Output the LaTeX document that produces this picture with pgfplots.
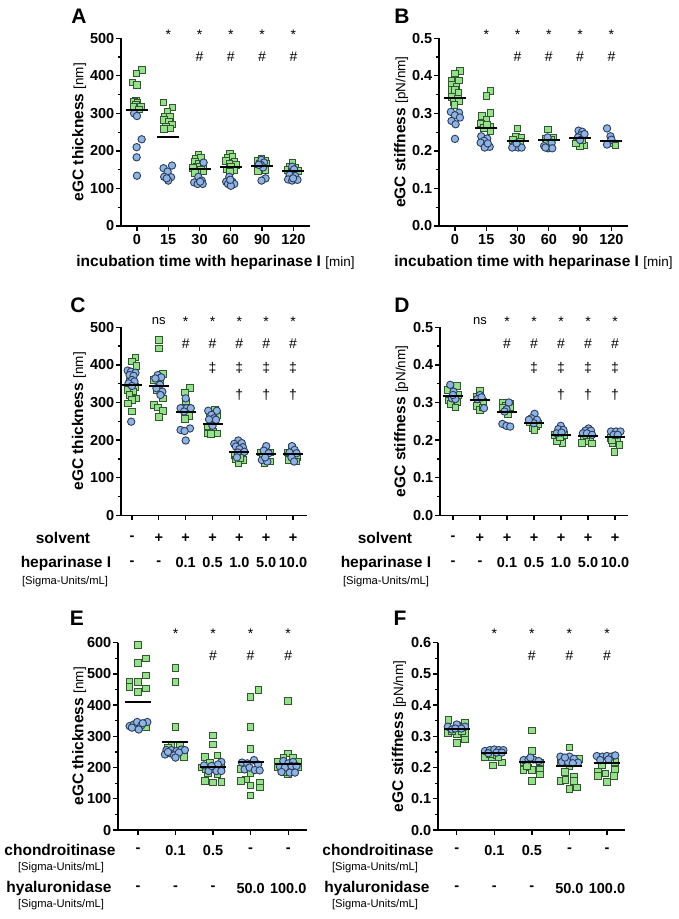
\documentclass[border=0pt]{standalone}
\usepackage{fontspec}
\setmainfont{Liberation Sans}
\usepackage{pgfplots}
\pgfplotsset{compat=1.18}
\definecolor{gfill}{RGB}{150,224,140}
\definecolor{gedge}{RGB}{50,85,50}
\definecolor{bfill}{RGB}{142,180,228}
\definecolor{bedge}{RGB}{45,60,90}
\newcommand{\tf}{\fontsize{14.5}{16}\selectfont\bfseries}
\newcommand{\lbf}{\fontsize{15.5}{17}\selectfont\bfseries}
\newcommand{\af}{\fontsize{14}{16}\selectfont\mdseries}
\newcommand{\uf}{\fontsize{13.5}{15}\selectfont\mdseries}
\newcommand{\sgf}{\fontsize{11.2}{13}\selectfont\mdseries}
\newcommand{\lf}{\fontsize{21}{24}\selectfont\bfseries}
\pgfplotsset{
 panel/.style={scale only axis, anchor=south west,
  axis x line*=bottom, axis y line*=left,
  axis line style={line width=1.6pt,-},
  every tick/.style={black,line width=1.3pt},
  major tick length=5pt, minor tick length=3pt, tick align=outside,
  clip=false, tick label style={font=\tf},
  yticklabel style={inner sep=1.5pt},
  minor y tick num=1,
  ylabel style={anchor=center, rotate=0}},
 gsq/.style={only marks, mark=square*, mark size=3.3pt, mark options={fill=gfill, draw=gedge, line width=0.9pt}},
 bci/.style={only marks, mark=*, mark size=3.7pt, mark options={fill=bfill, draw=bedge, line width=0.9pt}},
 meanl/.style={only marks, mark=-, mark size=#1, mark options={line width=2pt, draw=black}},
}
\tikzset{ann/.style={font=\af, inner sep=0pt, anchor=center},
         sta/.style={font=\af, inner sep=0pt, anchor=base},
         rowv/.style={font=\tf, inner sep=0pt, anchor=center}}
\begin{document}
\begin{tikzpicture}
\path[use as bounding box] (0pt,0pt) rectangle (679pt,-919pt);
% ================= A =================
\begin{axis}[panel, at={(121pt,-226pt)}, width=189pt, height=187.7pt,
  xmin=-0.51, xmax=5.53, ymin=0, ymax=500,
  xtick={0,...,5}, xticklabels={0,15,30,60,90,120},
  ytick={0,100,...,500}, yticklabels={0,100,200,300,400,500},
  ylabel={\lbf eGC thickness \uf[nm]}, ylabel style={at={(axis description cs:-0.222,0.5)}, rotate=0},
  xlabel={\lbf incubation time with heparinase I \uf[min]},
  xlabel style={at={(axis description cs:0.5,0)}, anchor=center, yshift=-36pt}]
\addplot[gsq] coordinates {(0.15,415.6)(-0.01,406.7)(-0.14,381.9)(0.0,375.7)(-0.03,334)(-0.09,331)(0.02,328.6)(-0.03,322)(0.13,318)(-0.11,318)(0.07,311)
(0.85,329)(1.14,316)(0.98,305)(0.9,290)(1.06,290)(0.87,282)(1.03,278)(1.11,271)(0.93,265)(1.06,260)(0.87,258)
(1.96,189)(1.88,180)(2.04,183)(1.85,171)(1.99,167)(2.1,163)(1.91,158)(1.78,154)(2.04,149)(2.13,145)(1.85,142)
(2.97,192)(2.91,183)(3.05,185)(2.85,174)(3.11,171)(2.95,167)(3.16,163)(3,158)(2.87,151)(3.11,149)(2.98,145)
(3.98,180)(3.87,174)(4.09,174)(3.93,167)(4.14,167)(3.85,158)(4.03,158)(3.96,149)(4.11,149)(3.87,147)
(4.97,169)(4.88,158)(5.04,156)(4.81,149)(5.15,147)(4.94,145)};
\addplot[bci] coordinates {(-0.09,300)(0,293)(0.15,231)(-0.01,210)(-0.01,183)(0,134)
(0.85,154)(1.12,161)(0.98,145)(0.87,131)(1.09,130)(1,121)(0.95,127)
(2.13,169)(1.96,131)(2.07,121)(1.83,116)(1.94,112)(2.1,112)(2.02,118)
(2.95,131)(2.85,118)(3.05,118)(2.91,112)(3.11,112)(3,107)(2.98,123)
(3.98,176)(4.06,169)(3.96,163)(4.03,156)(4.11,127)(3.98,121)(3.89,163)
(4.96,158)(5.02,151)(4.88,136)(5.06,133)(4.83,124)(4.96,121)(5.13,123)(4.99,127)};
\addplot[meanl=11pt] coordinates {(0,308)(1,237)(2,152)(3,156)(4,161)(5,147)};
\pgfplotsinvokeforeach{1,...,5}{\node[sta] at (axis cs:#1,498) {*};}
\pgfplotsinvokeforeach{2,...,5}{\node[ann] at (axis cs:#1,451) {\#};}
\end{axis}
% ================= B =================
\begin{axis}[panel, at={(439pt,-226pt)}, width=189pt, height=187.7pt,
  xmin=-0.51, xmax=5.53, ymin=0, ymax=0.5,
  xtick={0,...,5}, xticklabels={0,15,30,60,90,120},
  ytick={0,0.1,...,0.5}, yticklabels={0.0,0.1,0.2,0.3,0.4,0.5},
  ylabel={\lbf eGC stiffness \uf[pN/nm]}, ylabel style={at={(axis description cs:-0.20,0.5)}},
  xlabel={\lbf incubation time with heparinase I \uf[min]},
  xlabel style={at={(axis description cs:0.5,0)}, anchor=center, yshift=-36pt}]
\addplot[gsq] coordinates {(0.16,0.413)(0,0.406)(-0.11,0.388)(0.13,0.388)(-0.09,0.375)(0.05,0.371)(-0.11,0.362)(0,0.363)(0.11,0.355)(-0.09,0.344)(0.09,0.34)(-0.05,0.331)(0.13,0.333)(-0.02,0.322)
(1.13,0.359)(1,0.346)(1.14,0.301)(0.86,0.293)(1,0.284)(0.84,0.273)(1.11,0.264)(0.93,0.262)(1.14,0.253)(1.03,0.269)
(2,0.26)(1.94,0.239)(2.13,0.236)(1.86,0.23)(2.07,0.224)
(2.98,0.257)(3.14,0.236)(2.89,0.233)(3.06,0.229)(2.93,0.22)
(3.89,0.224)(4.14,0.215)(4,0.213)(3.86,0.22)(4.07,0.229)
(5.13,0.215)(4.94,0.22)};
\addplot[bci] coordinates {(-0.13,0.304)(0.13,0.302)(0,0.295)(0.16,0.289)(-0.11,0.28)(0.02,0.271)(0,0.232)
(0.84,0.239)(1.03,0.233)(0.93,0.227)(0.82,0.222)(1,0.215)(1.11,0.211)(0.95,0.209)(1.05,0.22)
(1.89,0.215)(2.02,0.209)(1.83,0.209)(2.13,0.209)(1.97,0.22)
(2.96,0.236)(3.09,0.222)(2.85,0.213)(2.98,0.207)(3.11,0.207)(2.89,0.209)
(3.95,0.254)(4.07,0.251)(4.03,0.242)(3.93,0.236)(4.14,0.245)(4,0.229)
(4.86,0.26)(4.97,0.239)(5,0.23)(4.86,0.217)};
\addplot[meanl=11pt] coordinates {(0,0.34)(1,0.262)(2,0.227)(3,0.229)(4,0.235)(5,0.227)};
\pgfplotsinvokeforeach{1,...,5}{\node[sta] at (axis cs:#1,0.498) {*};}
\pgfplotsinvokeforeach{2,...,5}{\node[ann] at (axis cs:#1,0.451) {\#};}
\end{axis}
% ================= C =================
\begin{axis}[panel, at={(121pt,-515.3pt)}, width=186pt, height=188pt,
  xmin=-0.41, xmax=6.52, ymin=0, ymax=500,
  xtick={0,...,6}, xticklabels={},
  ytick={0,100,...,500}, yticklabels={0,100,200,300,400,500},
  ylabel={\lbf eGC thickness \uf[nm]}, ylabel style={at={(axis description cs:-0.226,0.5)}}]
\addplot[gsq] coordinates {(0.13,420)(0,409)(0.16,397)(0.04,369)(-0.09,356)(0.13,342)(-0.16,333)(0.06,329)(-0.09,320)(0.16,311)(0,307)(-0.16,298)(0,276)
(1,466)(1,444)(1.16,376)(0.81,360)(1.06,356)(0.91,333)(1.16,311)(0.81,293)(0.96,287)(1.16,278)(1,262)
(2.15,338)(1.97,327)(2,303)(2.13,264)(1.97,257)
(3.09,282)(2.91,271)(3.19,267)(2.84,236)(3.04,223)(2.84,218)(3.16,218)(2.94,216)
(3.81,161)(4.09,156)(3.87,149)(4.13,147)(3.96,140)(4.04,152)
(4.81,167)(5.16,167)(4.87,156)(5.13,143)(4.94,140)
(5.96,181)(5.81,167)(6.16,156)(5.84,147)(6.13,143)};
\addplot[bci] coordinates {(-0.16,385)(-0.04,382)(0.13,379)(-0.09,373)(0.06,371)(0,360)(0.09,356)(-0.13,351)(0,344)(-0.03,249)
(0.96,373)(1.09,367)(0.87,364)(1.04,347)(0.91,338)(1.13,329)(1.06,320)
(2,311)(1.81,285)(2.04,285)(2.19,285)(1.94,276)(2.16,231)(1.81,227)(1.96,224)(2,199)
(2.84,278)(3.16,278)(2.96,267)(3.06,258)(2.87,255)(3.13,254)(3,238)
(3.96,199)(3.81,190)(4.09,192)(3.87,183)(4.13,181)(4,176)(3.94,167)(4.19,169)(3.91,154)
(5,184)(4.91,172)(5.09,165)(4.84,147)(5.04,143)(4.96,154)
(5.96,184)(6.06,174)(5.87,167)(6.13,165)(5.94,154)(6.04,143)};
\addplot[meanl=10pt] coordinates {(0,346)(1,344)(2,276)(3,243)(4,168)(5,162)(6,162)};
\node[sta, font=\fontsize{13}{15}\selectfont] at (axis cs:1,508) {ns};
\pgfplotsinvokeforeach{2,...,6}{\node[sta] at (axis cs:#1,502.7) {*};}
\pgfplotsinvokeforeach{2,...,6}{\node[ann] at (axis cs:#1,457) {\#};}
\pgfplotsinvokeforeach{3,...,6}{\node[ann] at (axis cs:#1,391) {‡};}
\pgfplotsinvokeforeach{4,...,6}{\node[ann] at (axis cs:#1,320) {†};}
\node[rowv] at (axis cs:0,0) [yshift=-22.7pt] {-};
\pgfplotsinvokeforeach{1,...,6}{\node[rowv] at (axis cs:#1,0) [yshift=-22.7pt] {+};}
\node[rowv] at (axis cs:0,0) [yshift=-47.7pt] {-};
\node[rowv] at (axis cs:1,0) [yshift=-47.7pt] {-};
\node[rowv] at (axis cs:2,0) [yshift=-47.7pt] {0.1};
\node[rowv] at (axis cs:3,0) [yshift=-47.7pt] {0.5};
\node[rowv] at (axis cs:4,0) [yshift=-47.7pt] {1.0};
\node[rowv] at (axis cs:5,0) [yshift=-47.7pt] {5.0};
\node[rowv] at (axis cs:6,0) [yshift=-47.7pt] {10.0};
\end{axis}
% ================= D =================
\begin{axis}[panel, at={(440pt,-515.3pt)}, width=188pt, height=188pt,
  xmin=-0.48, xmax=6.48, ymin=0, ymax=0.5,
  xtick={0,...,6}, xticklabels={},
  ytick={0,0.1,...,0.5}, yticklabels={0.0,0.1,0.2,0.3,0.4,0.5},
  ylabel={\lbf eGC stiffness \uf[pN/nm]}, ylabel style={at={(axis description cs:-0.207,0.5)}}]
\addplot[gsq] coordinates {(0.15,0.344)(-0.2,0.333)(0.2,0.32)(-0.16,0.305)(0.17,0.302)(-0.1,0.296)(0.09,0.287)
(1,0.332)(0.88,0.314)(1.12,0.302)(0.88,0.291)(1,0.28)(1.1,0.287)
(1.85,0.3)(2.1,0.298)(1.95,0.291)(2.12,0.287)(1.91,0.28)(2.04,0.27)(1.83,0.287)
(2.84,0.249)(3.09,0.238)(2.94,0.231)(3.15,0.243)(3.02,0.227)
(3.78,0.214)(4.11,0.214)(3.9,0.202)(4.06,0.193)(3.84,0.196)(3.96,0.207)
(4.84,0.207)(5.09,0.205)(4.94,0.196)(4.78,0.193)(5.15,0.191)
(5.83,0.205)(6.07,0.202)(5.91,0.193)(6.16,0.187)(5.98,0.169)(5.88,0.2)};
\addplot[bci] coordinates {(-0.1,0.347)(0.02,0.329)(-0.04,0.311)(0.09,0.309)(0,0.32)
(1,0.32)(0.9,0.309)(1.06,0.314)(1.15,0.285)
(2.07,0.3)(1.98,0.282)(1.91,0.276)(1.83,0.243)(1.98,0.238)(2.12,0.236)
(3.02,0.27)(2.9,0.258)(3.11,0.254)(2.99,0.245)(2.81,0.254)
(3.99,0.238)(3.9,0.229)(4.09,0.227)(3.84,0.218)(4.02,0.22)
(5.02,0.231)(4.9,0.225)(5.11,0.225)(4.81,0.218)(4.96,0.218)(5.15,0.214)
(5.85,0.223)(6.04,0.223)(6.2,0.223)(5.95,0.214)(6.1,0.214)};
\addplot[meanl=10pt] coordinates {(0,0.318)(1,0.307)(2,0.275)(3,0.245)(4,0.214)(5,0.211)(6,0.207)};
\node[sta, font=\fontsize{13}{15}\selectfont] at (axis cs:1,0.508) {ns};
\pgfplotsinvokeforeach{2,...,6}{\node[sta] at (axis cs:#1,0.5027) {*};}
\pgfplotsinvokeforeach{2,...,6}{\node[ann] at (axis cs:#1,0.457) {\#};}
\pgfplotsinvokeforeach{3,...,6}{\node[ann] at (axis cs:#1,0.391) {‡};}
\pgfplotsinvokeforeach{4,...,6}{\node[ann] at (axis cs:#1,0.320) {†};}
\node[rowv] at (axis cs:0,0) [yshift=-22.7pt] {-};
\pgfplotsinvokeforeach{1,...,6}{\node[rowv] at (axis cs:#1,0) [yshift=-22.7pt] {+};}
\node[rowv] at (axis cs:0,0) [yshift=-47.7pt] {-};
\node[rowv] at (axis cs:1,0) [yshift=-47.7pt] {-};
\node[rowv] at (axis cs:2,0) [yshift=-47.7pt] {0.1};
\node[rowv] at (axis cs:3,0) [yshift=-47.7pt] {0.5};
\node[rowv] at (axis cs:4,0) [yshift=-47.7pt] {1.0};
\node[rowv] at (axis cs:5,0) [yshift=-47.7pt] {5.0};
\node[rowv] at (axis cs:6,0) [yshift=-47.7pt] {10.0};
\end{axis}
% ================= E =================
\begin{axis}[panel, at={(118pt,-830pt)}, width=189pt, height=187.3pt,
  xmin=-0.53, xmax=4.5, ymin=0, ymax=600,
  xtick={0,...,4}, xticklabels={},
  ytick={0,100,...,600}, yticklabels={0,100,200,300,400,500,600},
  ylabel={\lbf eGC thickness \uf[nm]}, ylabel style={at={(axis description cs:-0.206,0.5)}}]
\addplot[gsq] coordinates {(0,592.5)(0.22,550)(0,536)(0.22,495)(-0.22,475)(0,474)(-0.22,459)(0.22,453)(0,442)(0.22,331)
(1,520)(1,474)(1,331)(0.89,271)(1.12,269)(1.23,235)(0.8,264)
(2,303)(2,274)(1.78,235)(2.12,239)(1.91,216)(1.69,200)(2.22,203)(1.87,182)(2.12,178)(1.78,157)(2,152)(2.22,154)(1.8,194)
(3.21,448)(3,426)(3,331)(3,260.5)(2.75,196)(3,181.5)(2.88,162)(2.75,157)(3.24,152)(3,143)(3.24,136)(3,111)
(4,413)(4,245.5)(3.87,232)(4.13,232)(3.73,218)(4.27,218)(3.73,200)(4.27,200)(4,178)(4.13,186)(3.87,186)};
\addplot[bci] coordinates {(-0.22,333)(-0.11,338)(-0.02,346)(0.09,335)(0.25,346)(0.02,322)(0.13,342)(-0.16,328)
(0.76,256)(0.89,256)(1.03,253)(1.16,258)(1.25,256)(0.72,242)(0.85,246)(0.96,239)(1.09,248)(1,232)(0.8,250)
(2.22,218)(1.76,207)(2.13,210)(2,196)(1.88,189)(2.09,189)(2.22,189)(1.96,205)
(2.77,216)(2.91,213.5)(3.09,224)(3.2,210)(2.84,194)(2.97,200)(3.11,192)(3.24,191)
(3.87,221)(4,213.5)(4.13,218)(3.78,203)(3.91,200)(4.09,205)(4.22,205)(3.82,186)(4.04,184)(4.18,184)};
\addplot[meanl=13pt] coordinates {(0,411)(1,282)(2,203)(3,218)(4,210)};
\pgfplotsinvokeforeach{1,...,4}{\node[sta] at (axis cs:#1,615) {*};}
\pgfplotsinvokeforeach{2,...,4}{\node[ann] at (axis cs:#1,557) {\#};}
\node[rowv] at (axis cs:0,0) [yshift=-20pt] {-};
\node[rowv] at (axis cs:1,0) [yshift=-20pt] {0.1};
\node[rowv] at (axis cs:2,0) [yshift=-20pt] {0.5};
\node[rowv] at (axis cs:3,0) [yshift=-20pt] {-};
\node[rowv] at (axis cs:4,0) [yshift=-20pt] {-};
\node[rowv] at (axis cs:0,0) [yshift=-58pt] {-};
\node[rowv] at (axis cs:1,0) [yshift=-58pt] {-};
\node[rowv] at (axis cs:2,0) [yshift=-58pt] {-};
\node[rowv] at (axis cs:3,0) [yshift=-58pt] {50.0};
\node[rowv] at (axis cs:4,0) [yshift=-58pt] {100.0};
\end{axis}
% ================= F =================
\begin{axis}[panel, at={(438pt,-830pt)}, width=187pt, height=187.3pt,
  xmin=-0.5, xmax=4.48, ymin=0, ymax=0.6,
  xtick={0,...,4}, xticklabels={},
  ytick={0,0.1,...,0.6}, yticklabels={0.0,0.1,0.2,0.3,0.4,0.5,0.6},
  ylabel={\lbf eGC stiffness \uf[pN/nm]}, ylabel style={at={(axis description cs:-0.209,0.5)}}]
\addplot[gsq] coordinates {(-0.22,0.352)(0.22,0.344)(0,0.335)(-0.24,0.31)(0,0.306)(0.22,0.31)(0,0.278)(0.22,0.29)(-0.13,0.317)(0.13,0.317)
(0.75,0.235)(0.93,0.235)(1.06,0.239)(1.21,0.216)(0.97,0.207)(1.11,0.232)(0.88,0.242)
(2,0.319)(2,0.253)(1.78,0.216)(2.22,0.216)(1.91,0.2)(1.78,0.192)(2,0.192)(2.22,0.192)(2.22,0.178)(2,0.157)(1.87,0.205)
(3,0.264)(2.76,0.216)(3.25,0.228)(3,0.205)(2.88,0.186)(3.12,0.171)(2.76,0.157)(2.89,0.16)(3.12,0.157)(3,0.132)(3.2,0.136)
(4.22,0.218)(3.87,0.207)(4.09,0.224)(3.76,0.186)(3.96,0.181)(4.18,0.173)(3.76,0.173)(4,0.154)(4.22,0.194)};
\addplot[bci] coordinates {(-0.24,0.331)(0,0.338)(0.22,0.331)(-0.13,0.322)(0.12,0.325)(-0.04,0.325)
(0.75,0.253)(0.88,0.256)(1,0.258)(1.12,0.256)(1.24,0.256)(0.84,0.246)(1.06,0.248)(1.2,0.248)
(1.78,0.224)(1.91,0.226)(2.04,0.226)(2.18,0.221)(1.96,0.232)
(2.76,0.235)(2.89,0.228)(3,0.235)(3.12,0.228)(3.23,0.216)(2.8,0.218)(2.96,0.218)(3.09,0.214)(2.88,0.232)
(3.73,0.237)(3.88,0.235)(4,0.237)(4.12,0.235)(4.22,0.239)(3.82,0.224)(4.04,0.226)};
\addplot[meanl=13pt] coordinates {(0,0.322)(1,0.246)(2,0.218)(3,0.205)(4,0.214)};
\pgfplotsinvokeforeach{1,...,4}{\node[sta] at (axis cs:#1,0.615) {*};}
\pgfplotsinvokeforeach{2,...,4}{\node[ann] at (axis cs:#1,0.557) {\#};}
\node[rowv] at (axis cs:0,0) [yshift=-20pt] {-};
\node[rowv] at (axis cs:1,0) [yshift=-20pt] {0.1};
\node[rowv] at (axis cs:2,0) [yshift=-20pt] {0.5};
\node[rowv] at (axis cs:3,0) [yshift=-20pt] {-};
\node[rowv] at (axis cs:4,0) [yshift=-20pt] {-};
\node[rowv] at (axis cs:0,0) [yshift=-58pt] {-};
\node[rowv] at (axis cs:1,0) [yshift=-58pt] {-};
\node[rowv] at (axis cs:2,0) [yshift=-58pt] {-};
\node[rowv] at (axis cs:3,0) [yshift=-58pt] {50.0};
\node[rowv] at (axis cs:4,0) [yshift=-58pt] {100.0};
\end{axis}
% ================= panel letters and row labels =================
\node[font=\lf, inner sep=0pt] at (79pt,-16pt) {A};
\node[font=\lf, inner sep=0pt] at (402pt,-16pt) {B};
\node[font=\lf, inner sep=0pt] at (78pt,-305pt) {C};
\node[font=\lf, inner sep=0pt] at (402pt,-305pt) {D};
\node[font=\lf, inner sep=0pt] at (77pt,-618pt) {E};
\node[font=\lf, inner sep=0pt] at (400pt,-618pt) {F};
\node[font=\lbf, inner sep=0pt] at (63pt,-538pt) {solvent};
\node[font=\lbf, inner sep=0pt] at (66pt,-563pt) {heparinase I};
\node[font=\sgf, inner sep=0pt] at (65pt,-582pt) {[Sigma-Units/mL]};
\node[font=\lbf, inner sep=0pt] at (385pt,-538pt) {solvent};
\node[font=\lbf, inner sep=0pt] at (386pt,-563pt) {heparinase I};
\node[font=\sgf, inner sep=0pt] at (386pt,-582pt) {[Sigma-Units/mL]};
\node[font=\lbf, inner sep=0pt] at (60pt,-850pt) {chondroitinase};
\node[font=\sgf, inner sep=0pt] at (61pt,-868pt) {[Sigma-Units/mL]};
\node[font=\lbf, inner sep=0pt] at (59pt,-888pt) {hyaluronidase};
\node[font=\sgf, inner sep=0pt] at (61pt,-905pt) {[Sigma-Units/mL]};
\node[font=\lbf, inner sep=0pt] at (378pt,-850pt) {chondroitinase};
\node[font=\sgf, inner sep=0pt] at (375pt,-868pt) {[Sigma-Units/mL]};
\node[font=\lbf, inner sep=0pt] at (377pt,-888pt) {hyaluronidase};
\node[font=\sgf, inner sep=0pt] at (375pt,-905pt) {[Sigma-Units/mL]};
\end{tikzpicture}
\end{document}
